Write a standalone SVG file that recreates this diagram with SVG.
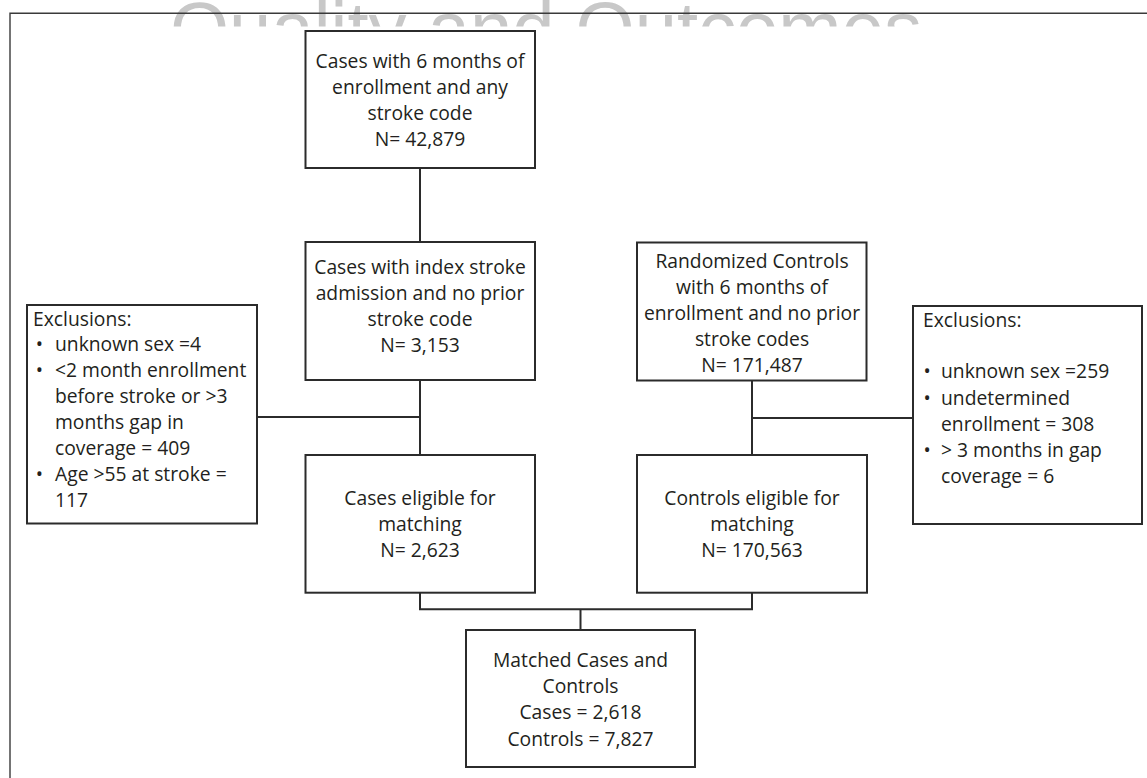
<svg xmlns="http://www.w3.org/2000/svg" width="1147" height="778" viewBox="0 0 1147 778">
<defs>
<clipPath id="wmclip"><rect x="0" y="0" width="1147" height="26.5"/></clipPath>
</defs>
<style>
.box{fill:#fff;stroke:#2b2b2b;stroke-width:2}
.ln{fill:none;stroke:#2b2b2b;stroke-width:2}
.frame{fill:none;stroke:#3a3a3a;stroke-width:1.4}
text{font-family:"Open Sans","Noto Sans","Liberation Sans",sans-serif;font-size:19.3px;fill:#231f20}
.c{text-anchor:middle}
.b{text-anchor:middle}
.wm{font-family:"Liberation Sans",Arial,sans-serif;font-size:76px;fill:#c8c8c8}
</style>
<rect x="0" y="0" width="1147" height="778" fill="#fff"/>
<g id="watermark" clip-path="url(#wmclip)">
<text class="wm" x="170" y="54.5">Quality and Outcomes</text>
</g>
<path class="frame" d="M10,778 V13.3 H1147"/>
<g id="connectors">
<path class="ln" d="M420,168 V242"/>
<path class="ln" d="M420,380 V455"/>
<path class="ln" d="M257,417 H420"/>
<path class="ln" d="M752,381 V455"/>
<path class="ln" d="M752,418 H913"/>
<path class="ln" d="M420,593 V609.3 H752 V593"/>
<path class="ln" d="M580.5,609.3 V630"/>
</g>
<g id="cases-initial">
<rect class="box" x="305.5" y="31" width="229.5" height="137"/>
<text class="c" x="420" y="68">Cases with 6 months of</text>
<text class="c" x="420" y="94">enrollment and any</text>
<text class="c" x="420" y="120">stroke code</text>
<text class="c" x="420" y="146">N= 42,879</text>
</g>
<g id="cases-index">
<rect class="box" x="305.5" y="242" width="229.5" height="138"/>
<text class="c" x="420" y="274">Cases with index stroke</text>
<text class="c" x="420" y="300">admission and no prior</text>
<text class="c" x="420" y="326">stroke code</text>
<text class="c" x="420" y="352">N= 3,153</text>
</g>
<g id="controls-random">
<rect class="box" x="637" y="242.5" width="229.5" height="138"/>
<text class="c" x="752" y="268">Randomized Controls</text>
<text class="c" x="752" y="294">with 6 months of</text>
<text class="c" x="752" y="320">enrollment and no prior</text>
<text class="c" x="752" y="346">stroke codes</text>
<text class="c" x="752" y="372">N= 171,487</text>
</g>
<g id="exclusions-cases">
<rect class="box" x="27" y="305" width="230" height="218.5"/>
<text x="33" y="326">Exclusions:</text>
<text class="b" x="39.3" y="351">•</text>
<text x="55" y="351">unknown sex =4</text>
<text class="b" x="39.3" y="377">•</text>
<text x="55" y="377">&lt;2 month enrollment</text>
<text x="55" y="403">before stroke or &gt;3</text>
<text x="55" y="429">months gap in</text>
<text x="55" y="455">coverage = 409</text>
<text class="b" x="39.3" y="481">•</text>
<text x="55" y="481">Age &gt;55 at stroke =</text>
<text x="55" y="507">117</text>
</g>
<g id="exclusions-controls">
<rect class="box" x="913" y="306" width="229" height="218"/>
<text x="923" y="327">Exclusions:</text>
<text class="b" x="927" y="378">•</text>
<text x="941" y="378">unknown sex =259</text>
<text class="b" x="927" y="405">•</text>
<text x="941" y="405">undetermined</text>
<text x="941" y="431">enrollment = 308</text>
<text class="b" x="927" y="457">•</text>
<text x="941" y="457">&gt; 3 months in gap</text>
<text x="941" y="483">coverage = 6</text>
</g>
<g id="cases-eligible">
<rect class="box" x="305.5" y="455" width="229.5" height="137.7"/>
<text class="c" x="420" y="505">Cases eligible for</text>
<text class="c" x="420" y="531">matching</text>
<text class="c" x="420" y="557">N= 2,623</text>
</g>
<g id="controls-eligible">
<rect class="box" x="637" y="455" width="230" height="137.7"/>
<text class="c" x="752" y="505">Controls eligible for</text>
<text class="c" x="752" y="531">matching</text>
<text class="c" x="752" y="557">N= 170,563</text>
</g>
<g id="matched">
<rect class="box" x="466" y="630" width="229" height="137"/>
<text class="c" x="580.5" y="667">Matched Cases and</text>
<text class="c" x="580.5" y="693">Controls</text>
<text class="c" x="580.5" y="719">Cases = 2,618</text>
<text class="c" x="580.5" y="745.5">Controls = 7,827</text>
</g>
</svg>
